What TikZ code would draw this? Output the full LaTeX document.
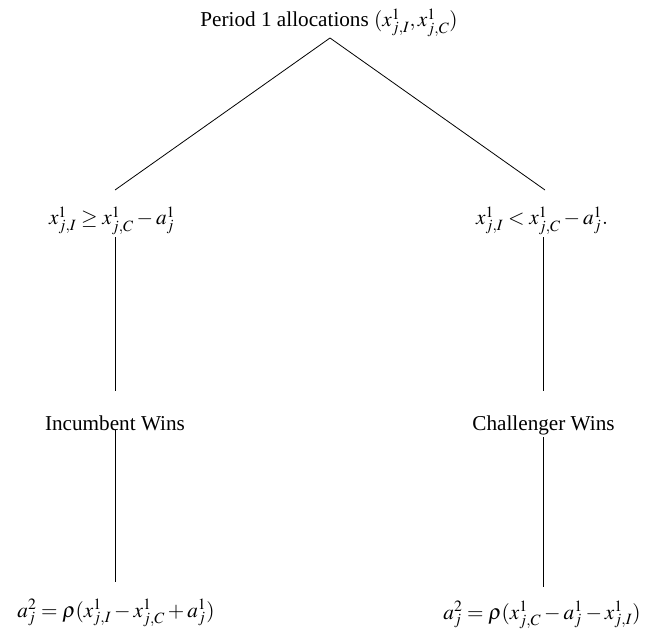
\documentclass[tikz,border=0pt]{standalone}
\usepackage{mathptmx}
\usepackage{fontspec}
\setmainfont{Liberation Serif}
\begin{document}
\begin{tikzpicture}[x=1pt,y=-1pt,
  lbl/.style={inner sep=0pt,anchor=base,font=\fontsize{21.2}{25}\selectfont},
  edge/.style={draw=black,line width=0.8pt}]
\useasboundingbox (0,0) rectangle (647,636);
\node[lbl] (top) at (329,27) {Period 1 allocations $(x^1_{j,I},x^1_{j,C})$};
\node[lbl] (lc) at (112,225) {$x^1_{j,I}\geq x^1_{j,C}-a^1_j$};
\node[lbl] (rc) at (542,225) {$x^1_{j,I}< x^1_{j,C}-a^1_j.$};
\node[lbl] (iw) at (115,430) {Incumbent Wins};
\node[lbl] (cw) at (543.5,430) {Challenger Wins};
\node[lbl] (lb) at (116,617) {$a^2_j=\rho(x^1_{j,I}-x^1_{j,C}+a^1_j)$};
\node[lbl] (rb) at (542,619) {$a^2_j=\rho(x^1_{j,C}-a^1_j-x^1_{j,I})$};
\coordinate (apex) at (330,38);
\coordinate (l1) at (115,190);
\coordinate (r1) at (545,190);
\coordinate (l2) at (115,237);
\coordinate (l3) at (115,391);
\coordinate (r2) at (543,237);
\coordinate (r3) at (543,391);
\coordinate (l4) at (115,430);
\coordinate (l5) at (115,582);
\coordinate (r4) at (543,437);
\coordinate (r5) at (543,587);
\draw[edge] (l1) -- (apex) -- (r1);
\draw[edge] (l2) -- (l3);
\draw[edge] (r2) -- (r3);
\draw[edge] (l4) -- (l5);
\draw[edge] (r4) -- (r5);
\end{tikzpicture}
\end{document}
